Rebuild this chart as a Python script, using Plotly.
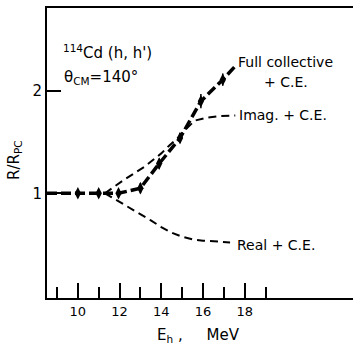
import plotly.graph_objects as go

# Measured data points (Full collective + C.E.)
pts_e = [10, 11, 11.95, 13, 13.9, 14.9, 15.9, 16.95]
pts_r = [1.0, 1.0, 1.0, 1.05, 1.29, 1.54, 1.90, 2.11]
pts_err = [0.04, 0.04, 0.04, 0.05, 0.05, 0.05, 0.07, 0.06]

# Full collective + C.E. curve
full_e = [8.52, 10, 11, 11.95, 13, 13.9, 14.9, 15.9, 16.95, 17.58]
full_r = [1.0, 1.0, 1.0, 1.0, 1.05, 1.29, 1.54, 1.90, 2.11, 2.25]

# Imag. + C.E. curve
imag_e = [11.3, 11.7, 12.2, 12.7, 13.2, 13.6, 14.0, 14.4, 14.9, 15.2, 15.6, 16.2, 16.8, 17.55]
imag_r = [1.0, 1.06, 1.13, 1.195, 1.26, 1.325, 1.39, 1.47, 1.56, 1.63, 1.71, 1.74, 1.755, 1.76]

# Real + C.E. curve
real_e = [11.3, 12, 12.5, 13, 13.5, 14, 14.5, 15, 15.5, 16, 16.5, 17.3]
real_r = [1.0, 0.915, 0.855, 0.80, 0.735, 0.67, 0.615, 0.575, 0.55, 0.537, 0.528, 0.52]

x_major = [10, 12, 14, 16, 18]
x_minor = [9, 11, 13, 15, 17, 19]
y_ticks = [1, 2]

FONT = "DejaVu Sans"

fig = go.Figure()
fig.add_trace(go.Scatter(x=imag_e, y=imag_r, mode="lines",
                         line=dict(color="black", width=2, dash="8px,5px"), hoverinfo="skip"))
fig.add_trace(go.Scatter(x=real_e, y=real_r, mode="lines",
                         line=dict(color="black", width=2, dash="8px,5px"), hoverinfo="skip"))
fig.add_trace(go.Scatter(x=full_e, y=full_r, mode="lines",
                         line=dict(color="black", width=3.5, dash="10px,4px"), hoverinfo="skip"))
fig.add_trace(go.Scatter(x=pts_e, y=pts_r, mode="markers",
                         marker=dict(symbol="diamond-tall", size=9, color="black"),
                         error_y=dict(type="data", array=pts_err, color="black", thickness=1.5, width=0)))

ann = []
def txt(x, y, t, size=14, xanchor="left", angle=0, ref="data"):
    xr, yr = ("x", "y") if ref == "data" else ("paper", "paper")
    ann.append(dict(x=x, y=y, xref=xr, yref=yr, text=t, showarrow=False,
                    xanchor=xanchor, yanchor="middle", textangle=angle,
                    font=dict(family=FONT, size=size, color="black")))

txt(9.2, 2.38, "<sup>114</sup>Cd (h, h')", 15)
txt(9.25, 2.13, "θ<sub>CM</sub>=140°", 15)
txt(17.6, 2.283, "Full collective", 14)
txt(18.85, 2.088, "+ C.E.", 14)
txt(17.65, 1.765, "Imag. + C.E.", 14)
txt(17.55, 0.495, "Real + C.E.", 14)
txt(0.4935, -0.131, "E<sub>h</sub> ,     MeV", 15, xanchor="center", ref="paper")
txt(-0.1046, 0.476, "R/R<sub>PC</sub>", 15, xanchor="center", angle=-90, ref="paper")

fig.update_layout(
    width=353, height=348,
    margin=dict(l=47, r=0, t=8, b=50),
    paper_bgcolor="white", plot_bgcolor="white",
    showlegend=False,
    annotations=ann,
    font=dict(family=FONT, color="black"),
    xaxis=dict(range=[8.52, 23.196], showgrid=False, zeroline=False,
               showline=True, linewidth=2, linecolor="black", mirror=True,
               ticks="inside", ticklen=15, tickwidth=1.5, tickcolor="black",
               tickmode="array", tickvals=x_major, ticktext=[str(v) for v in x_major],
               tickfont=dict(family=FONT, size=13),
               minor=dict(tickmode="array", tickvals=x_minor, ticks="inside",
                          ticklen=11, tickwidth=1.5, tickcolor="black")),
    yaxis=dict(range=[-0.0235, 2.811], showgrid=False, zeroline=False,
               showline=True, linewidth=2, linecolor="black", mirror=False,
               ticks="inside", ticklen=14, tickwidth=1.5, tickcolor="black",
               tickmode="array", tickvals=y_ticks, ticktext=[str(v) for v in y_ticks],
               tickfont=dict(family=FONT, size=15)),
)

fig.write_html("out.html")
